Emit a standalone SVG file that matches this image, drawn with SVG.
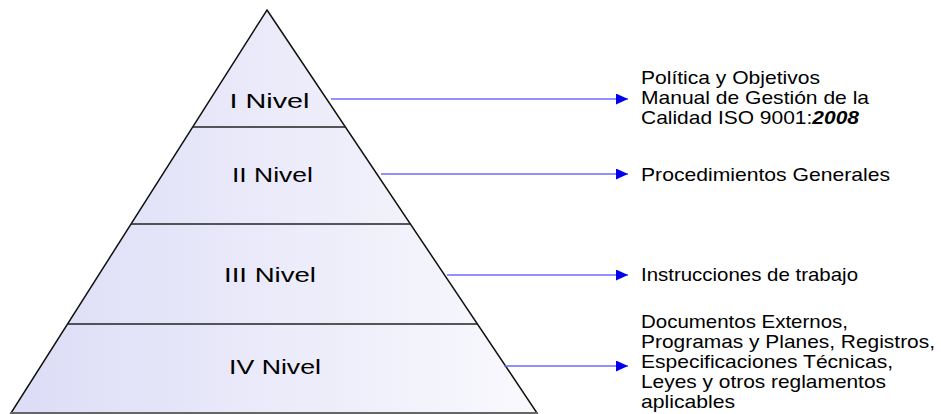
<svg xmlns="http://www.w3.org/2000/svg" width="941" height="414" viewBox="0 0 941 414">
<defs>
<linearGradient id="fill" gradientUnits="userSpaceOnUse" x1="11" y1="0" x2="537" y2="0">
<stop offset="0" stop-color="#dcdcf7"/>
<stop offset="1" stop-color="#f9f9fd"/>
</linearGradient>
<marker id="ah" viewBox="0 0 12 11" refX="12" refY="5.5" markerWidth="12" markerHeight="11" markerUnits="userSpaceOnUse" orient="auto">
<path d="M0,0 L12,5.5 L0,11 z" fill="#0000ee"/>
</marker>
<style>
.lvl{font-family:"Liberation Sans",Arial,sans-serif;font-size:21px;fill:#000;text-anchor:middle}
.lbl{font-family:"Liberation Sans",Arial,sans-serif;font-size:19px;fill:#000}
.div{stroke:#222;stroke-width:1.5}
.arr{stroke:#6b6bff;stroke-width:1.5;fill:none;marker-end:url(#ah)}
</style>
</defs>
<rect width="941" height="414" fill="#ffffff"/>
<g id="pyramid">
<path d="M267,10 L537,413 L11,413 Z" fill="url(#fill)" stroke="#111" stroke-width="1.5"/>
<line x1="11" y1="413" x2="537" y2="413" stroke="#666" stroke-width="2"/>
</g>
<g id="level1">
<text class="lvl" x="269.5" y="108" textLength="80" lengthAdjust="spacingAndGlyphs">I Nivel</text>
</g>
<g id="level2">
<line class="div" x1="192.6" y1="127" x2="345.4" y2="127"/>
<text class="lvl" x="272.5" y="182" textLength="81" lengthAdjust="spacingAndGlyphs">II Nivel</text>
</g>
<g id="level3">
<line class="div" x1="131" y1="224" x2="410.4" y2="224"/>
<text class="lvl" x="270" y="282" textLength="92" lengthAdjust="spacingAndGlyphs">III Nivel</text>
</g>
<g id="level4">
<line class="div" x1="67" y1="324" x2="477.4" y2="324"/>
<text class="lvl" x="275" y="374" textLength="92" lengthAdjust="spacingAndGlyphs">IV Nivel</text>
</g>
<g id="connectors">
<line class="arr" x1="331" y1="99" x2="628" y2="99"/>
<line class="arr" x1="381" y1="174" x2="628" y2="174"/>
<line class="arr" x1="447" y1="275" x2="628" y2="275"/>
<line class="arr" x1="504" y1="366" x2="628" y2="366"/>
</g>
<g id="label1">
<text class="lbl" x="641" y="84" textLength="179" lengthAdjust="spacingAndGlyphs">Política y Objetivos</text>
<text class="lbl" x="641" y="104" textLength="228" lengthAdjust="spacingAndGlyphs">Manual de Gestión de la</text>
<text class="lbl" x="641" y="124" textLength="218" lengthAdjust="spacingAndGlyphs">Calidad ISO 9001:<tspan font-weight="bold" font-style="italic">2008</tspan></text>
</g>
<g id="label2">
<text class="lbl" x="641" y="181" textLength="249" lengthAdjust="spacingAndGlyphs">Procedimientos Generales</text>
</g>
<g id="label3">
<text class="lbl" x="641" y="281" textLength="217" lengthAdjust="spacingAndGlyphs">Instrucciones de trabajo</text>
</g>
<g id="label4">
<text class="lbl" x="641" y="328" textLength="207" lengthAdjust="spacingAndGlyphs">Documentos Externos,</text>
<text class="lbl" x="641" y="348" textLength="294" lengthAdjust="spacingAndGlyphs">Programas y Planes, Registros,</text>
<text class="lbl" x="641" y="368" textLength="252" lengthAdjust="spacingAndGlyphs">Especificaciones Técnicas,</text>
<text class="lbl" x="641" y="388" textLength="245" lengthAdjust="spacingAndGlyphs">Leyes y otros reglamentos</text>
<text class="lbl" x="641" y="408" textLength="94" lengthAdjust="spacingAndGlyphs">aplicables</text>
</g>
</svg>
